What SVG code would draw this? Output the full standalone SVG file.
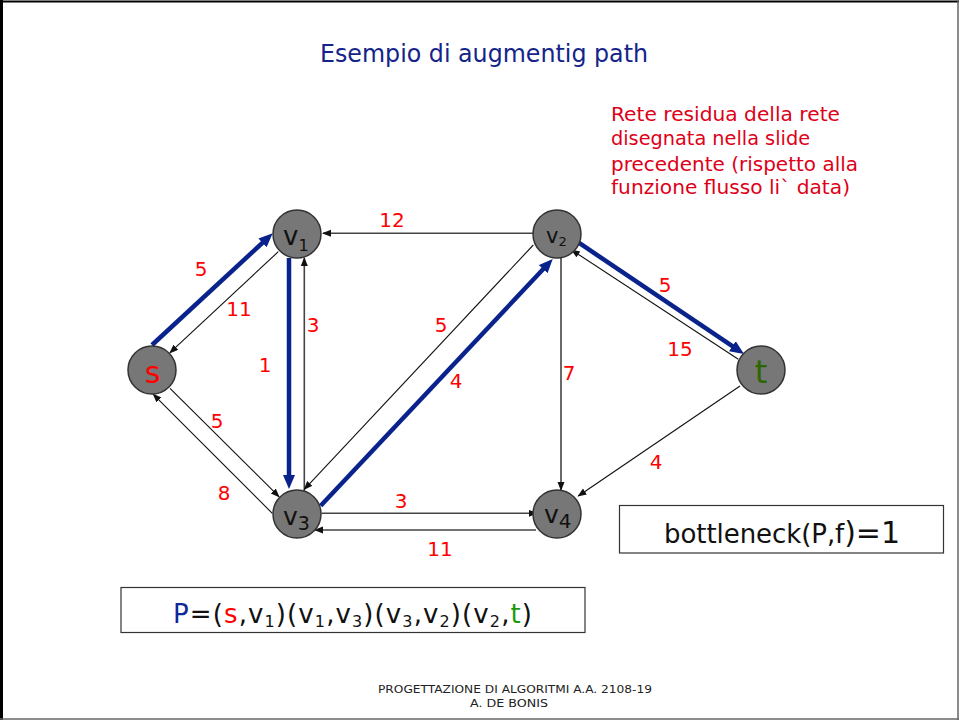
<svg xmlns="http://www.w3.org/2000/svg" width="959" height="720" viewBox="0 0 959 720">
<style>
.node{fill:#777777;stroke:#333333;stroke-width:1.5}
.nl{font-family:"DejaVu Sans","Verdana",sans-serif;fill:#111111}
.lbl{font-family:"DejaVu Sans",sans-serif;font-size:20px;fill:#ff0000;text-anchor:middle}
.thin{stroke:#111111;stroke-width:1.1;fill:none;marker-end:url(#ah)}
.gray{stroke:#444444;stroke-width:1.6;fill:none;marker-end:url(#ah)}
.blue{stroke:#0a238c;stroke-width:4.5;fill:none;marker-end:url(#bh)}
.box{fill:#ffffff;stroke:#333333;stroke-width:1.2}
.red{font-family:"DejaVu Sans",sans-serif;font-size:19px;fill:#dd0018}
</style>
<defs>
<marker id="ah" markerUnits="userSpaceOnUse" markerWidth="10" markerHeight="8" refX="8" refY="3.5" orient="auto">
<path d="M0,0 L9,3.5 L0,7 z" fill="#111111"/>
</marker>
<marker id="bh" markerUnits="userSpaceOnUse" markerWidth="15" markerHeight="13" refX="4" refY="6" orient="auto">
<path d="M0,0 L14,6 L0,12 z" fill="#0a238c"/>
</marker>
</defs>
<rect x="0" y="0" width="959" height="720" fill="#ffffff"/>
<line x1="1.5" y1="0" x2="1.5" y2="720" stroke="#000" stroke-width="3"/>
<line x1="0" y1="1.5" x2="959" y2="1.5" stroke="#000" stroke-width="2"/>
<line x1="958" y1="0" x2="958" y2="720" stroke="#666" stroke-width="1.5"/>
<line x1="0" y1="719" x2="959" y2="719" stroke="#666" stroke-width="1.5"/>

<text x="484" y="62" font-family="DejaVu Sans,sans-serif" font-size="25" fill="#14248a" text-anchor="middle" textLength="328" lengthAdjust="spacingAndGlyphs">Esempio di augmentig path</text>

<g id="note">
<text class="red" x="611" y="121" textLength="229" lengthAdjust="spacingAndGlyphs">Rete residua della rete</text>
<text class="red" x="611" y="145" textLength="199" lengthAdjust="spacingAndGlyphs">disegnata nella slide</text>
<text class="red" x="611" y="171" textLength="247" lengthAdjust="spacingAndGlyphs">precedente (rispetto alla</text>
<text class="red" x="611" y="194" textLength="239" lengthAdjust="spacingAndGlyphs">funzione flusso li`  data)</text>
</g>

<g id="connectors">
<line class="blue" x1="152" y1="345" x2="265.4" y2="240.1"/>
<line class="thin" x1="278.3" y1="251.7" x2="170" y2="352.7"/>
<line class="blue" x1="289" y1="258" x2="289" y2="479"/>
<line class="gray" x1="304.3" y1="491" x2="304.3" y2="258"/>
<line class="gray" x1="533" y1="233.3" x2="323" y2="233.3"/>
<line class="thin" x1="533.3" y1="245" x2="304.3" y2="489.3"/>
<line class="blue" x1="320.7" y1="505.7" x2="545.9" y2="266.3"/>
<line class="blue" x1="577.3" y1="241.7" x2="735.7" y2="348.4"/>
<line class="thin" x1="738.3" y1="359.3" x2="571.7" y2="250"/>
<line class="gray" x1="561" y1="257" x2="561" y2="490"/>
<line class="thin" x1="740" y1="386" x2="578.3" y2="496"/>
<line class="thin" x1="170" y1="388.3" x2="279" y2="496.7"/>
<line class="thin" x1="272.3" y1="513.3" x2="153.3" y2="394.3"/>
<line class="gray" x1="321.7" y1="513.3" x2="536.7" y2="513.3"/>
<line class="gray" x1="536" y1="530" x2="315" y2="530"/>
<text class="lbl" x="201" y="276">5</text>
<text class="lbl" x="239" y="316">11</text>
<text class="lbl" x="265" y="372">1</text>
<text class="lbl" x="313" y="332">3</text>
<text class="lbl" x="392" y="227">12</text>
<text class="lbl" x="441" y="332">5</text>
<text class="lbl" x="456" y="388">4</text>
<text class="lbl" x="665" y="292">5</text>
<text class="lbl" x="680" y="356">15</text>
<text class="lbl" x="569" y="380">7</text>
<text class="lbl" x="656" y="469">4</text>
<text class="lbl" x="217" y="428">5</text>
<text class="lbl" x="224" y="500">8</text>
<text class="lbl" x="401" y="508">3</text>
<text class="lbl" x="440" y="556">11</text>
</g>

<g id="v1">
<circle class="node" cx="297" cy="234" r="24"/>
<text class="nl" x="283" y="245" font-size="26">v<tspan font-size="16" dy="6">1</tspan></text>
</g>
<g id="v2">
<circle class="node" cx="557" cy="234" r="24"/>
<text class="nl" x="546" y="243" font-size="21">v<tspan font-size="13" dy="3">2</tspan></text>
</g>
<g id="s">
<circle class="node" cx="152" cy="370" r="24"/>
<text x="152.5" y="383" font-family="DejaVu Sans,sans-serif" font-size="30" fill="#ff0000" text-anchor="middle">s</text>
</g>
<g id="t">
<circle class="node" cx="761" cy="370" r="24"/>
<text x="761" y="383" font-family="DejaVu Sans,sans-serif" font-size="32" fill="#2d6600" text-anchor="middle">t</text>
</g>
<g id="v3">
<circle class="node" cx="297" cy="514" r="24"/>
<text class="nl" x="283" y="525" font-size="25">v<tspan font-size="19" dy="5">3</tspan></text>
</g>
<g id="v4">
<circle class="node" cx="557" cy="514" r="24"/>
<text class="nl" x="544" y="523" font-size="25">v<tspan font-size="20" dy="5">4</tspan></text>
</g>

<g id="pathbox">
<rect class="box" x="121" y="587.5" width="464" height="45"/>
<text x="173" y="622.5" font-family="DejaVu Sans,sans-serif" font-size="26" fill="#111" textLength="359" lengthAdjust="spacing"><tspan fill="#10289a">P</tspan>=(<tspan fill="#ff0000">s</tspan>,v<tspan font-size="16" dy="4">1</tspan><tspan dy="-4">)(v</tspan><tspan font-size="16" dy="4">1</tspan><tspan dy="-4">,v</tspan><tspan font-size="16" dy="4">3</tspan><tspan dy="-4">)(v</tspan><tspan font-size="16" dy="4">3</tspan><tspan dy="-4">,v</tspan><tspan font-size="16" dy="4">2</tspan><tspan dy="-4">)(v</tspan><tspan font-size="16" dy="4">2</tspan><tspan dy="-4">,</tspan><tspan fill="#1a9a10">t</tspan>)</text>
</g>

<g id="bottleneck">
<rect class="box" x="619.5" y="505.5" width="324" height="47.5"/>
<text x="664" y="543" font-family="DejaVu Sans,sans-serif" font-size="26" fill="#111" textLength="236" lengthAdjust="spacing">bottleneck(P,f<tspan font-size="30">)=1</tspan></text>
</g>

<g id="footer">
<text x="515" y="693" font-family="DejaVu Sans,sans-serif" font-size="10.5" fill="#222" text-anchor="middle" textLength="274" lengthAdjust="spacingAndGlyphs">PROGETTAZIONE DI ALGORITMI  A.A. 2108-19</text>
<text x="509" y="707" font-family="DejaVu Sans,sans-serif" font-size="10.5" fill="#222" text-anchor="middle" textLength="78" lengthAdjust="spacingAndGlyphs">A. DE BONIS</text>
</g>
</svg>
